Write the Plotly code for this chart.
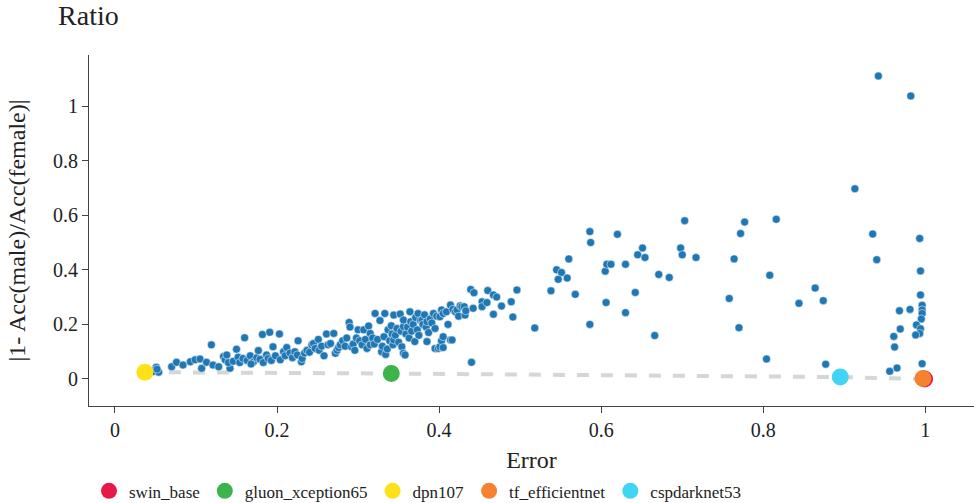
import plotly.graph_objects as go

# Blue model points (Error, |1 - Acc(male)/Acc(female)|)
err = [
    0.047, 0.051, 0.054, 0.052, 0.070, 0.076, 0.084, 0.093, 0.099, 0.105, 0.107,
    0.113, 0.119, 0.121, 0.128, 0.134, 0.136, 0.138, 0.142, 0.140, 0.146, 0.150, 0.152, 0.154, 0.158, 0.160,
    0.163, 0.167, 0.171, 0.168, 0.175, 0.177, 0.179, 0.182, 0.183, 0.187, 0.189, 0.191, 0.193, 0.195, 0.198,
    0.203, 0.204, 0.208, 0.210, 0.212, 0.216, 0.219, 0.222, 0.225, 0.226, 0.230, 0.231, 0.234, 0.237, 0.240,
    0.243, 0.245, 0.247, 0.251, 0.252, 0.255, 0.258, 0.261, 0.263, 0.266, 0.270, 0.272, 0.274, 0.276, 0.278,
    0.281, 0.284, 0.286, 0.289, 0.290, 0.292, 0.294, 0.296, 0.298, 0.300,
    0.302, 0.305, 0.307, 0.309, 0.311, 0.313, 0.315, 0.315, 0.318, 0.320, 0.321, 0.324, 0.327, 0.329, 0.330,
    0.332, 0.333, 0.334, 0.336, 0.337, 0.339, 0.341, 0.342, 0.343, 0.344, 0.344, 0.346, 0.348, 0.350, 0.352,
    0.353, 0.354, 0.356, 0.356, 0.356, 0.358, 0.359, 0.361, 0.363, 0.364, 0.365, 0.366, 0.368, 0.370, 0.371,
    0.373, 0.374, 0.375, 0.377, 0.379, 0.380, 0.382, 0.384, 0.385, 0.385, 0.387, 0.389, 0.391, 0.393, 0.395,
    0.395, 0.397, 0.399,
    0.401, 0.401, 0.403, 0.403, 0.405, 0.405, 0.405, 0.409, 0.411, 0.414, 0.414, 0.416, 0.417, 0.420, 0.422,
    0.424, 0.426, 0.428, 0.431, 0.432, 0.433, 0.439, 0.440, 0.442, 0.443, 0.453, 0.453, 0.459, 0.460, 0.467,
    0.467, 0.471, 0.477, 0.489, 0.491, 0.496,
    0.518, 0.538, 0.545, 0.551, 0.547, 0.558, 0.560, 0.568, 0.586, 0.587, 0.586, 0.605, 0.607, 0.612, 0.606,
    0.620, 0.630, 0.630, 0.642, 0.645, 0.651, 0.654, 0.666, 0.671, 0.684, 0.698, 0.700, 0.703, 0.717, 0.758,
    0.764, 0.770, 0.772, 0.777, 0.804, 0.808, 0.816, 0.844, 0.864, 0.874, 0.877, 0.913, 0.935, 0.940, 0.942,
    0.982, 0.993, 0.994, 0.994, 0.996, 0.996, 0.996, 0.995, 0.968, 0.981, 0.989, 0.994, 0.993, 0.988, 0.969,
    0.961, 0.962, 0.996, 0.965, 0.956,
]
ratio = [
    0.027, 0.043, 0.025, 0.036, 0.045, 0.061, 0.051, 0.063, 0.070, 0.073, 0.039,
    0.061, 0.125, 0.051, 0.045, 0.082, 0.070, 0.088, 0.039, 0.060, 0.065, 0.109, 0.080, 0.060, 0.075, 0.151,
    0.068, 0.085, 0.063, 0.055, 0.078, 0.104, 0.072, 0.163, 0.060, 0.088, 0.075, 0.171, 0.068, 0.118, 0.085,
    0.165, 0.070, 0.100, 0.085, 0.115, 0.095, 0.078, 0.100, 0.088, 0.140, 0.063, 0.075, 0.095, 0.105, 0.098,
    0.125, 0.130, 0.112, 0.145, 0.105, 0.120, 0.085, 0.165, 0.125, 0.130, 0.167, 0.094, 0.105, 0.115, 0.125,
    0.140, 0.120, 0.150, 0.207, 0.190, 0.118, 0.128, 0.105, 0.150, 0.180,
    0.140, 0.125, 0.180, 0.145, 0.112, 0.194, 0.167, 0.125, 0.150, 0.128, 0.240, 0.145, 0.214, 0.100, 0.120,
    0.155, 0.240, 0.090, 0.110, 0.180, 0.140, 0.195, 0.165, 0.125, 0.143, 0.234, 0.160, 0.185, 0.135, 0.238,
    0.175, 0.118, 0.192, 0.094, 0.216, 0.088, 0.165, 0.190, 0.150, 0.246, 0.210, 0.175, 0.200, 0.137, 0.225,
    0.180, 0.240, 0.160, 0.215, 0.216, 0.200, 0.235, 0.190, 0.137, 0.210, 0.170, 0.220, 0.205, 0.240, 0.112,
    0.185, 0.230, 0.112,
    0.228, 0.118, 0.253, 0.140, 0.240, 0.155, 0.115, 0.246, 0.200, 0.271, 0.143, 0.143, 0.255, 0.246, 0.253,
    0.230, 0.268, 0.265, 0.265, 0.234, 0.250, 0.328, 0.061, 0.259, 0.316, 0.283, 0.265, 0.280, 0.324, 0.308,
    0.237, 0.300, 0.267, 0.283, 0.227, 0.326,
    0.187, 0.323, 0.400, 0.390, 0.365, 0.370, 0.440, 0.310, 0.540, 0.500, 0.200, 0.395, 0.420, 0.420, 0.280,
    0.530, 0.420, 0.243, 0.317, 0.455, 0.480, 0.445, 0.159, 0.383, 0.372, 0.480, 0.455, 0.580, 0.445, 0.295,
    0.440, 0.188, 0.533, 0.575, 0.073, 0.380, 0.585, 0.277, 0.333, 0.287, 0.054, 0.697, 0.531, 0.437, 1.110,
    1.037, 0.515, 0.396, 0.308, 0.270, 0.253, 0.240, 0.220, 0.250, 0.255, 0.198, 0.184, 0.167, 0.161, 0.183,
    0.156, 0.117, 0.056, 0.040, 0.028,
]

# Highlighted models
hl_names = ["swin_base", "gluon_xception65", "dpn107", "tf_efficientnet", "cspdarknet53"]
hl_err = [0.999, 0.341, 0.037, 0.997, 0.895]
hl_ratio = [0.000, 0.020, 0.025, 0.002, 0.007]
hl_colors = ["#e6194b", "#3cb44b", "#ffe119", "#f58231", "#42d4f4"]

x_ticks = [0, 0.2, 0.4, 0.6, 0.8, 1]
x_tick_text = ["0", "0.2", "0.4", "0.6", "0.8", "1"]
y_ticks = [0, 0.2, 0.4, 0.6, 0.8, 1]
y_tick_text = ["0", "0.2", "0.4", "0.6", "0.8", "1"]

FONT = "Liberation Serif"

fig = go.Figure()

# dashed line through the highlighted models, sorted by error
order = sorted(range(len(hl_err)), key=lambda i: hl_err[i])
fig.add_trace(go.Scatter(
    x=[hl_err[i] for i in order], y=[hl_ratio[i] for i in order],
    mode="lines", line=dict(color="#d6d6d6", width=4, dash="dash"),
    showlegend=False, hoverinfo="skip",
))

fig.add_trace(go.Scatter(
    x=err, y=ratio, mode="markers",
    marker=dict(color="#1f77b4", size=8, line=dict(color="white", width=0.5)),
    showlegend=False,
))

for n, xv, yv, c in zip(hl_names, hl_err, hl_ratio, hl_colors):
    fig.add_trace(go.Scatter(
        x=[xv], y=[yv], mode="markers", name=n,
        marker=dict(color=c, size=17),
    ))

fig.update_layout(
    width=974, height=503,
    template="plotly_white",
    font=dict(family=FONT, size=20, color="#222"),
    title=dict(text="Ratio", x=0.0596, xanchor="left", y=0.970, yanchor="middle",
               font=dict(family=FONT, size=28, color="#222")),
    margin=dict(l=89, r=0, t=55, b=97, autoexpand=False),
    plot_bgcolor="white", paper_bgcolor="white",
    legend=dict(orientation="h", x=0, xanchor="left", xref="paper",
                y=0.059, yanchor="top", yref="container",
                font=dict(family=FONT, size=17, color="#222")),
    xaxis=dict(
        title=dict(text="Error", font=dict(family=FONT, size=24), standoff=21),
        range=[-0.032, 1.06], tickvals=x_ticks, ticktext=x_tick_text,
        showgrid=False, zeroline=False, showline=True, linecolor="#444", linewidth=1,
        ticks="outside", ticklen=6, tickcolor="#444", automargin=False,
    ),
    yaxis=dict(
        title=dict(text="|1- Acc(male)/Acc(female)|", font=dict(family=FONT, size=24), standoff=20),
        range=[-0.099, 1.187], tickvals=y_ticks, ticktext=y_tick_text,
        showgrid=False, zeroline=False, showline=True, linecolor="#444", linewidth=1,
        ticks="outside", ticklen=6, tickcolor="#444", automargin=False,
    ),
)

fig.write_html("out.html", config={"displayModeBar": False},
               post_script="document.body.style.margin='0';")
